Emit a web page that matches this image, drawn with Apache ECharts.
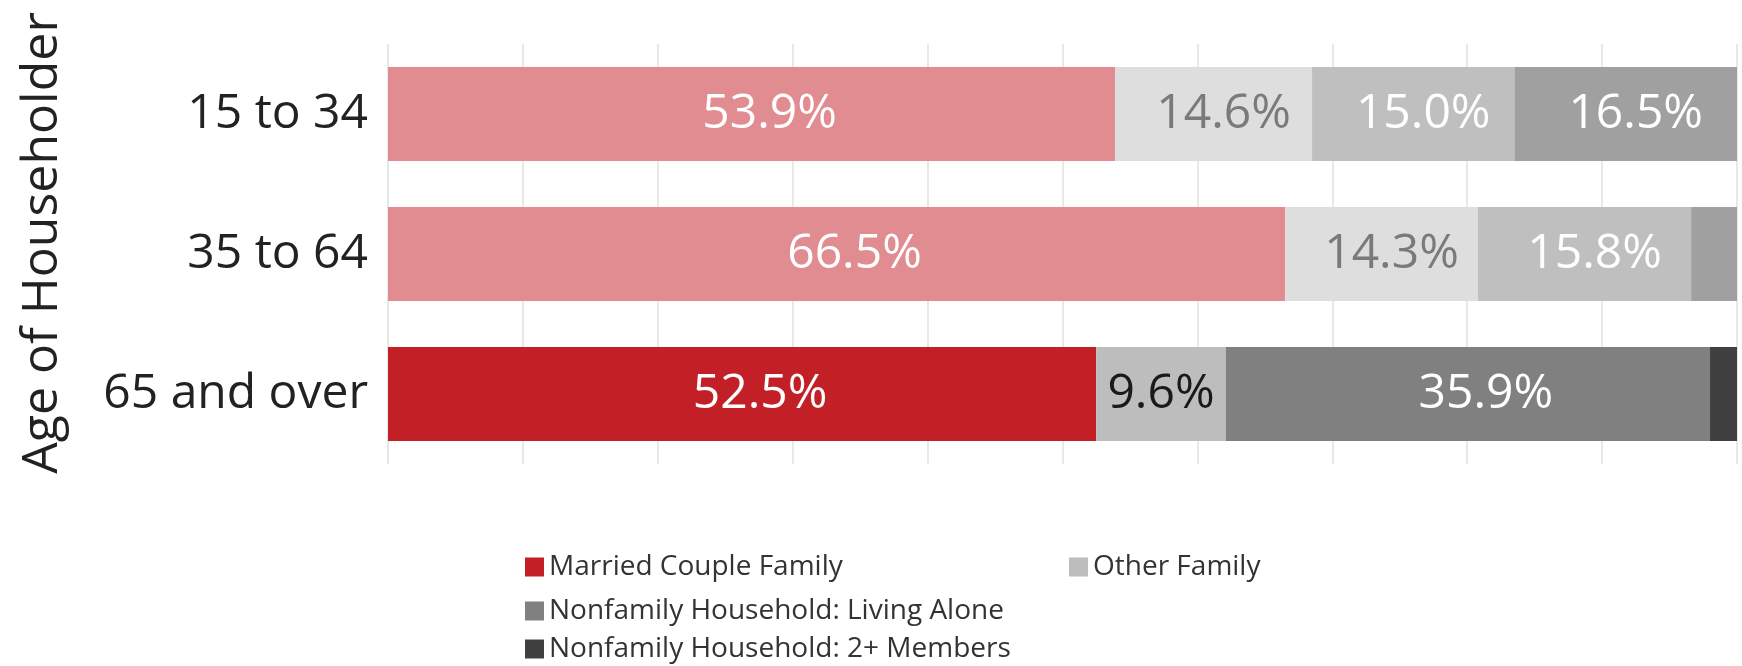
<!DOCTYPE html>
<html>
<head>
<meta charset="utf-8">
<script src="https://cdn.jsdelivr.net/npm/echarts@6/dist/echarts.min.js"></script>
<style>
  html, body { margin: 0; padding: 0; background: #fff; }
  #main { width: 1742px; height: 666px; }
</style>
</head>
<body>
<div id="main"></div>
<script>
// data
var categories = ['15 to 34', '35 to 64', '65 and over'];
var seriesNames = ['Married Couple Family', 'Other Family', 'Nonfamily Household: Living Alone', 'Nonfamily Household: 2+ Members'];
var married = [53.9, 66.5, 52.5];
var otherFamily = [14.6, 14.3, 9.6];
var livingAlone = [15.0, 15.8, 35.9];
var twoPlus = [16.5, 3.4, 2.0];

// full colours (65 and over + legend) and faded colours (other rows)
var fullColors = ['#c21f27', '#bdbdbd', '#7f807f', '#404040'];
var fadedColors = ['#e08c91', '#dedede', '#bebfbe', '#a0a0a0'];
var labelColorsFaded = ['#ffffff', '#7a7a7a', '#ffffff', '#ffffff'];
var labelColorsFull = ['#ffffff', '#1a1a1a', '#ffffff', '#ffffff'];

var FONT = 'Open Sans';

// labels sit a little right of centre in the original
function labelShift(v) {
  if (v >= 30) return 18;
  if (v >= 12) return 10;
  return 0;
}

function buildSeries(name, values, idx) {
  return {
    name: name,
    type: 'bar',
    stack: 'total',
    barWidth: 94,
    itemStyle: { color: fullColors[idx] },
    label: {
      show: true,
      position: 'inside',
      fontFamily: FONT,
      fontSize: 48,
      formatter: function (p) {
        return p.value >= 5 ? p.value.toFixed(1) + '%' : '';
      }
    },
    data: values.map(function (v, i) {
      var last = i === categories.length - 1;
      return {
        value: v,
        itemStyle: { color: last ? fullColors[idx] : fadedColors[idx] },
        label: {
          color: last ? labelColorsFull[idx] : labelColorsFaded[idx],
          offset: [labelShift(v), 0]
        }
      };
    })
  };
}

var legendPos = [
  { left: 520, top: 548 },
  { left: 1064, top: 548 },
  { left: 520, top: 592 },
  { left: 520, top: 630 }
];

var chart = echarts.init(document.getElementById('main'));
var option = {
  animation: false,
  backgroundColor: '#fff',
  grid: { left: 388, right: 5, top: 44, height: 420 },
  legend: seriesNames.map(function (n, i) {
    return {
      data: [n],
      left: legendPos[i].left,
      top: legendPos[i].top,
      icon: 'rect',
      itemWidth: 19,
      itemHeight: 19,
      itemGap: 4,
      selectedMode: false,
      textStyle: { fontFamily: FONT, fontSize: 28, color: '#333' }
    };
  }),
  xAxis: {
    type: 'value',
    min: 0,
    max: 100,
    interval: 10,
    axisLabel: { show: false },
    axisLine: { show: false },
    axisTick: { show: false },
    splitLine: { show: true, lineStyle: { color: '#e8e8e8', width: 2 } }
  },
  yAxis: {
    type: 'category',
    inverse: true,
    data: categories,
    axisLine: { show: false },
    axisTick: { show: false },
    axisLabel: { fontFamily: FONT, fontSize: 48, color: '#222', margin: 20 },
    name: 'Age of Householder',
    nameLocation: 'middle',
    nameRotate: 90,
    nameGap: 320,
    nameTextStyle: { fontFamily: FONT, fontSize: 50, color: '#222', padding: [0, 0, 0, 22] }
  },
  series: [
    buildSeries(seriesNames[0], married, 0),
    buildSeries(seriesNames[1], otherFamily, 1),
    buildSeries(seriesNames[2], livingAlone, 2),
    buildSeries(seriesNames[3], twoPlus, 3)
  ]
};
chart.setOption(option);
</script>
</body>
</html>
